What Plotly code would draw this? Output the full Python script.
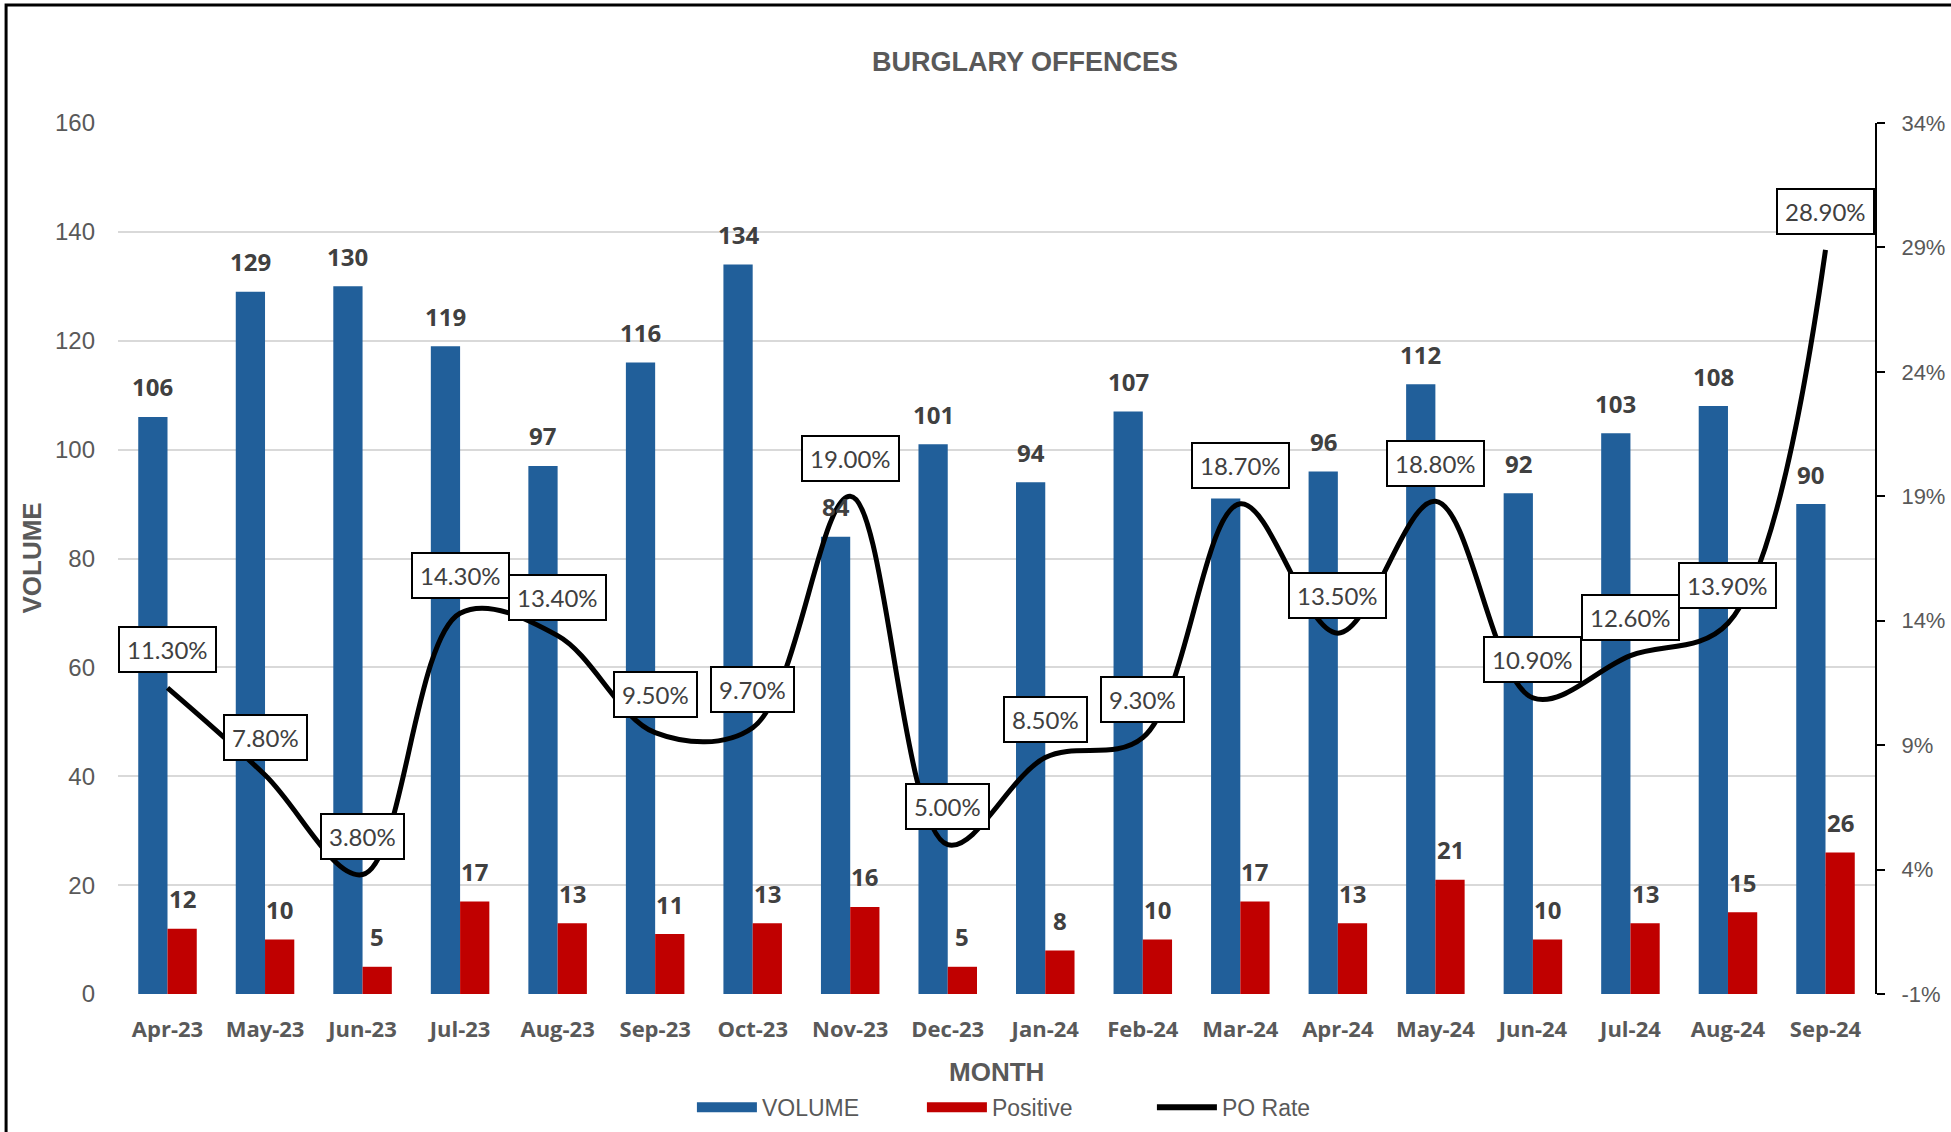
import plotly.graph_objects as go

months = ["Apr-23", "May-23", "Jun-23", "Jul-23", "Aug-23", "Sep-23", "Oct-23", "Nov-23", "Dec-23",
          "Jan-24", "Feb-24", "Mar-24", "Apr-24", "May-24", "Jun-24", "Jul-24", "Aug-24", "Sep-24"]
volume = [106, 129, 130, 119, 97, 116, 134, 84, 101, 94, 107, 91, 96, 112, 92, 103, 108, 90]
positive = [12, 10, 5, 17, 13, 11, 13, 16, 5, 8, 10, 17, 13, 21, 10, 13, 15, 26]
po_rate = [0.113, 0.078, 0.038, 0.143, 0.134, 0.095, 0.097, 0.190, 0.050, 0.085, 0.093, 0.187,
           0.135, 0.188, 0.109, 0.126, 0.139, 0.289]

left_ticks = [0, 20, 40, 60, 80, 100, 120, 140, 160]
right_ticks = [-0.01, 0.04, 0.09, 0.14, 0.19, 0.24, 0.29, 0.34]
right_tick_text = ["-1%", "4%", "9%", "14%", "19%", "24%", "29%", "34%"]

BLUE = "#215F9A"
RED = "#C00000"
GRAY = "#595959"
DARK = "#404040"
SANS = "Liberation Sans, Arial, sans-serif"
BOLD = "Open Sans, Lato, sans-serif"

W, H = 1951, 1132
ML, MR, MT, MB = 118, 76, 123, 138
BARGAP = 0.4

fig = go.Figure()
fig.add_trace(go.Bar(x=months, y=volume, name="VOLUME", showlegend=False,
                     marker=dict(color=BLUE, line=dict(width=0))))
fig.add_trace(go.Bar(x=months, y=positive, name="Positive", showlegend=False,
                     marker=dict(color=RED, line=dict(width=0))))
fig.add_trace(go.Scatter(
    x=months, y=po_rate, name="PO Rate", yaxis="y2", mode="lines", showlegend=False,
    line=dict(color="black", width=5, shape="spline", smoothing=1.0),
    cliponaxis=False,
))
# legend keys drawn as wide swatches, like the original's legend
for name, color, width in [("VOLUME", BLUE, 16), ("Positive", RED, 16), ("PO Rate", "black", 6)]:
    fig.add_trace(go.Scatter(x=[None], y=[None], name=name, mode="lines",
                             line=dict(color=color, width=width), showlegend=True))

# bar data labels: offset of each bar within its category group, from the layout's gap
cat_px = (W - ML - MR) / len(months)
bar_px = cat_px * (1 - BARGAP) / 2
annotations = []
for m, v, p in zip(months, volume, positive):
    annotations.append(dict(x=m, y=v, xref="x", yref="y", text=str(v), showarrow=False,
                            xshift=-bar_px / 2, yshift=30, yanchor="middle",
                            font=dict(family=BOLD, size=24, color=DARK, weight="bold")))
    annotations.append(dict(x=m, y=p, xref="x", yref="y", text=str(p), showarrow=False,
                            xshift=bar_px / 2, yshift=30, yanchor="middle",
                            font=dict(family=BOLD, size=24, color=DARK, weight="bold")))

for m, r in zip(months, po_rate):
    annotations.append(dict(
        x=m, y=r, xref="x", yref="y2", text=f"{r*100:.2f}%", showarrow=False,
        yshift=38, yanchor="middle", bgcolor="white", bordercolor="black", borderwidth=2, borderpad=7,
        font=dict(family="Lato, sans-serif", size=24, color=DARK),
    ))

annotations += [
    dict(text="BURGLARY OFFENCES", x=0.516, y=1.07, xref="paper", yref="paper", showarrow=False,
         yanchor="middle", font=dict(family=SANS, size=27, color=GRAY, weight="bold")),
    dict(text="MONTH", x=0.5, y=-0.09, xref="paper", yref="paper", showarrow=False,
         yanchor="middle", font=dict(family=SANS, size=26, color=GRAY, weight="bold")),
    dict(text="VOLUME", x=-0.0495, y=0.5, xref="paper", yref="paper", showarrow=False,
         textangle=-90, xanchor="center", yanchor="middle",
         font=dict(family=SANS, size=26, color=GRAY, weight="bold")),
]

fig.update_layout(
    width=W, height=H,
    margin=dict(l=ML, r=MR, t=MT, b=MB, autoexpand=False),
    paper_bgcolor="white", plot_bgcolor="white",
    barmode="group", bargap=BARGAP, bargroupgap=0.0,
    showlegend=True,
    legend=dict(orientation="h", x=0.523, xanchor="center", y=-0.13, yanchor="middle",
                font=dict(family=SANS, size=23, color=GRAY), itemwidth=60,
                entrywidth=155, traceorder="normal"),
    xaxis=dict(
        type="category", showgrid=False, showline=False, ticks="", automargin=False,
        tickfont=dict(family=BOLD, size=22, color=GRAY, weight="bold"),
        ticklabelstandoff=20,
    ),
    yaxis=dict(
        range=[0, 160], tickvals=left_ticks, showgrid=True, gridcolor="#D9D9D9", gridwidth=2,
        zeroline=False, showline=False, ticks="", automargin=False,
        tickfont=dict(family=SANS, size=24, color=GRAY), ticklabelstandoff=22,
    ),
    yaxis2=dict(
        overlaying="y", side="right", range=[-0.01, 0.34], tickvals=right_ticks,
        ticktext=right_tick_text, showgrid=False, zeroline=False, automargin=False,
        showline=True, linecolor="black", linewidth=2, ticks="outside", ticklen=8,
        tickcolor="black", tickwidth=2,
        tickfont=dict(family=SANS, size=22, color=GRAY), ticklabelstandoff=12,
    ),
    annotations=annotations,
    shapes=[dict(type="rect", xref="paper", yref="paper", x0=-0.0637, x1=1.2, y0=-0.3, y1=1.1355,
                 line=dict(color="black", width=3), fillcolor="rgba(0,0,0,0)", layer="above")],
)

fig.write_html("out.html", config={"displayModeBar": False},
               post_script="document.body.style.margin='0';")
